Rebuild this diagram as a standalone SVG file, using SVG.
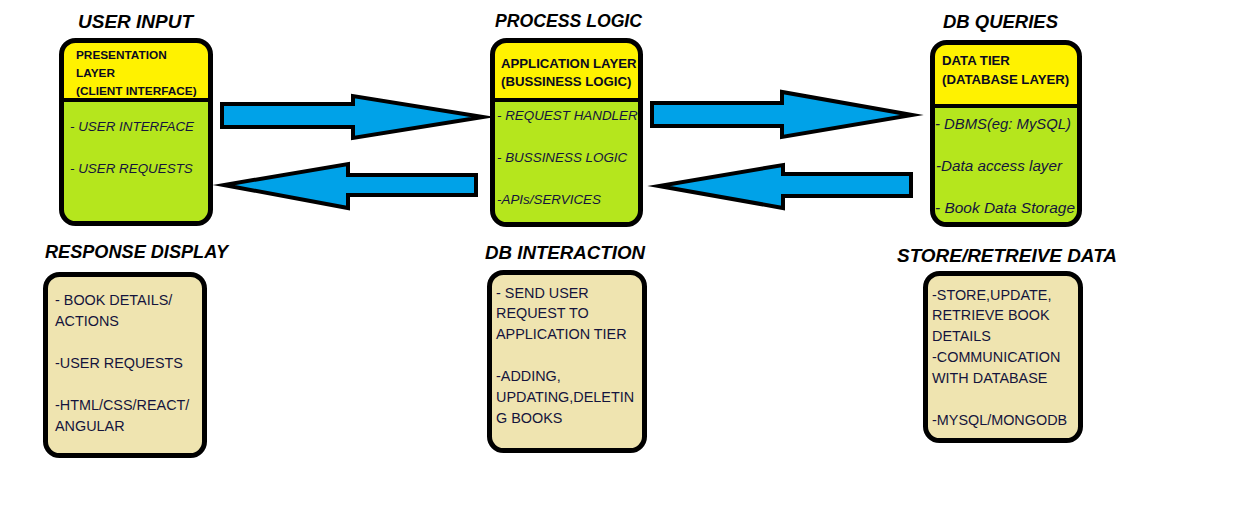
<svg xmlns="http://www.w3.org/2000/svg" width="1239" height="530" viewBox="0 0 1239 530">
<style>
.bg{fill:#ffffff}
.green{fill:#b5e61d}
.yellow{fill:#fff200}
.beige{fill:#efe4b0}
.outline{fill:none;stroke:#000;stroke-width:5}
.div{stroke:#000;stroke-width:4}
.title{font-family:"Liberation Sans",Arial,sans-serif;font-weight:bold;font-style:italic;font-size:18px;fill:#000}
.head{font-family:"Liberation Sans",Arial,sans-serif;font-weight:bold;font-size:13.2px;fill:#0a0a20}
.head1{font-family:"Liberation Sans",Arial,sans-serif;font-weight:bold;font-size:11.8px;fill:#0a0a20}
.item{font-family:"Liberation Sans",Arial,sans-serif;font-style:italic;font-size:13.4px;fill:#14143c}
.item3{font-family:"Liberation Sans",Arial,sans-serif;font-style:italic;font-size:14px;fill:#14143c}
.body{font-family:"Liberation Sans",Arial,sans-serif;font-size:14.4px;fill:#14143c}
.arrow{fill:#00a2e8;stroke:#000;stroke-width:4;stroke-linejoin:miter;stroke-miterlimit:20}
</style>
<rect class="bg" x="0" y="0" width="1239" height="530"/>

<g id="connectors">
<polygon class="arrow" points="222,104 353,104 353,96 483,117 353,138 353,127 222,127"/>
<polygon class="arrow" points="476,175 348,175 348,164 224,185 348,208 348,195 476,195"/>
<polygon class="arrow" points="652,103 782,103 782,92 912,115 782,137 782,126 652,126"/>
<polygon class="arrow" points="911,174 783,174 783,165 659,186 783,208 783,196 911,196"/>
</g>

<g id="presentation-layer">
<text class="title" x="78" y="28" textLength="115" lengthAdjust="spacingAndGlyphs">USER INPUT</text>
<rect class="green" x="61.5" y="40.5" width="149" height="183" rx="14"/>
<path class="yellow" d="M61.5,100 V54.5 A14,14 0 0 1 75.5,40.5 H196.5 A14,14 0 0 1 210.5,54.5 V100 Z"/>
<rect class="outline" x="61.5" y="40.5" width="149" height="183" rx="14"/>
<line class="div" x1="61.5" y1="100" x2="213" y2="100"/>
<text class="head1" x="76" y="59">PRESENTATION</text>
<text class="head1" x="76" y="77">LAYER</text>
<text class="head1" x="76" y="95">(CLIENT INTERFACE)</text>
<text class="item" x="70" y="131">- USER INTERFACE</text>
<text class="item" x="70" y="173">- USER REQUESTS</text>
</g>

<g id="application-layer">
<text class="title" x="495" y="27" textLength="147" lengthAdjust="spacingAndGlyphs">PROCESS LOGIC</text>
<rect class="green" x="492.5" y="40.5" width="148" height="184" rx="14"/>
<path class="yellow" d="M492.5,100 V54.5 A14,14 0 0 1 506.5,40.5 H626.5 A14,14 0 0 1 640.5,54.5 V100 Z"/>
<rect class="outline" x="492.5" y="40.5" width="148" height="184" rx="14"/>
<line class="div" x1="492.5" y1="100" x2="640.5" y2="100"/>
<text class="head" x="501" y="68">APPLICATION LAYER</text>
<text class="head" x="501" y="86">(BUSSINESS LOGIC)</text>
<text class="item" x="497" y="120">- REQUEST HANDLER</text>
<text class="item" x="497" y="162">- BUSSINESS LOGIC</text>
<text class="item" x="497" y="204">-APIs/SERVICES</text>
</g>

<g id="data-tier">
<text class="title" x="943" y="28" textLength="115" lengthAdjust="spacingAndGlyphs">DB QUERIES</text>
<rect class="green" x="932.5" y="42.5" width="147" height="182" rx="14"/>
<path class="yellow" d="M932.5,106 V56.5 A14,14 0 0 1 946.5,42.5 H1065.5 A14,14 0 0 1 1079.5,56.5 V106 Z"/>
<rect class="outline" x="932.5" y="42.5" width="147" height="182" rx="14"/>
<line class="div" x1="932.5" y1="106" x2="1079.5" y2="106"/>
<text class="head" x="942" y="65">DATA TIER</text>
<text class="head" x="942" y="84">(DATABASE LAYER)</text>
<text class="item3" x="935" y="129" textLength="136" lengthAdjust="spacingAndGlyphs">- DBMS(eg: MySQL)</text>
<text class="item3" x="936" y="171" textLength="126" lengthAdjust="spacingAndGlyphs">-Data access layer</text>
<text class="item3" x="935" y="213" textLength="140" lengthAdjust="spacingAndGlyphs">- Book Data Storage</text>
</g>

<g id="response-display">
<text class="title" x="45" y="258" textLength="183" lengthAdjust="spacingAndGlyphs">RESPONSE DISPLAY</text>
<rect class="beige" x="45.5" y="274.5" width="159" height="181" rx="14"/>
<rect class="outline" x="45.5" y="274.5" width="159" height="181" rx="14"/>
<text class="body" x="55" y="305">- BOOK DETAILS/</text>
<text class="body" x="55" y="326">ACTIONS</text>
<text class="body" x="55" y="368">-USER REQUESTS</text>
<text class="body" x="55" y="410">-HTML/CSS/REACT/</text>
<text class="body" x="55" y="431">ANGULAR</text>
</g>

<g id="db-interaction">
<text class="title" x="485" y="259" textLength="160" lengthAdjust="spacingAndGlyphs">DB INTERACTION</text>
<rect class="beige" x="489.5" y="272.5" width="155" height="178" rx="14"/>
<rect class="outline" x="489.5" y="272.5" width="155" height="178" rx="14"/>
<text class="body" x="496" y="298">- SEND USER</text>
<text class="body" x="496" y="318">REQUEST TO</text>
<text class="body" x="496" y="339">APPLICATION TIER</text>
<text class="body" x="496" y="381">-ADDING,</text>
<text class="body" x="496" y="402">UPDATING,DELETIN</text>
<text class="body" x="496" y="423">G BOOKS</text>
</g>

<g id="store-retrieve">
<text class="title" x="897" y="262" textLength="220" lengthAdjust="spacingAndGlyphs">STORE/RETREIVE DATA</text>
<rect class="beige" x="925.5" y="273.5" width="155" height="167" rx="14"/>
<rect class="outline" x="925.5" y="273.5" width="155" height="167" rx="14"/>
<text class="body" x="932" y="300">-STORE,UPDATE,</text>
<text class="body" x="932" y="320">RETRIEVE BOOK</text>
<text class="body" x="932" y="341">DETAILS</text>
<text class="body" x="932" y="362">-COMMUNICATION</text>
<text class="body" x="932" y="383">WITH DATABASE</text>
<text class="body" x="932" y="425">-MYSQL/MONGODB</text>
</g>
</svg>
